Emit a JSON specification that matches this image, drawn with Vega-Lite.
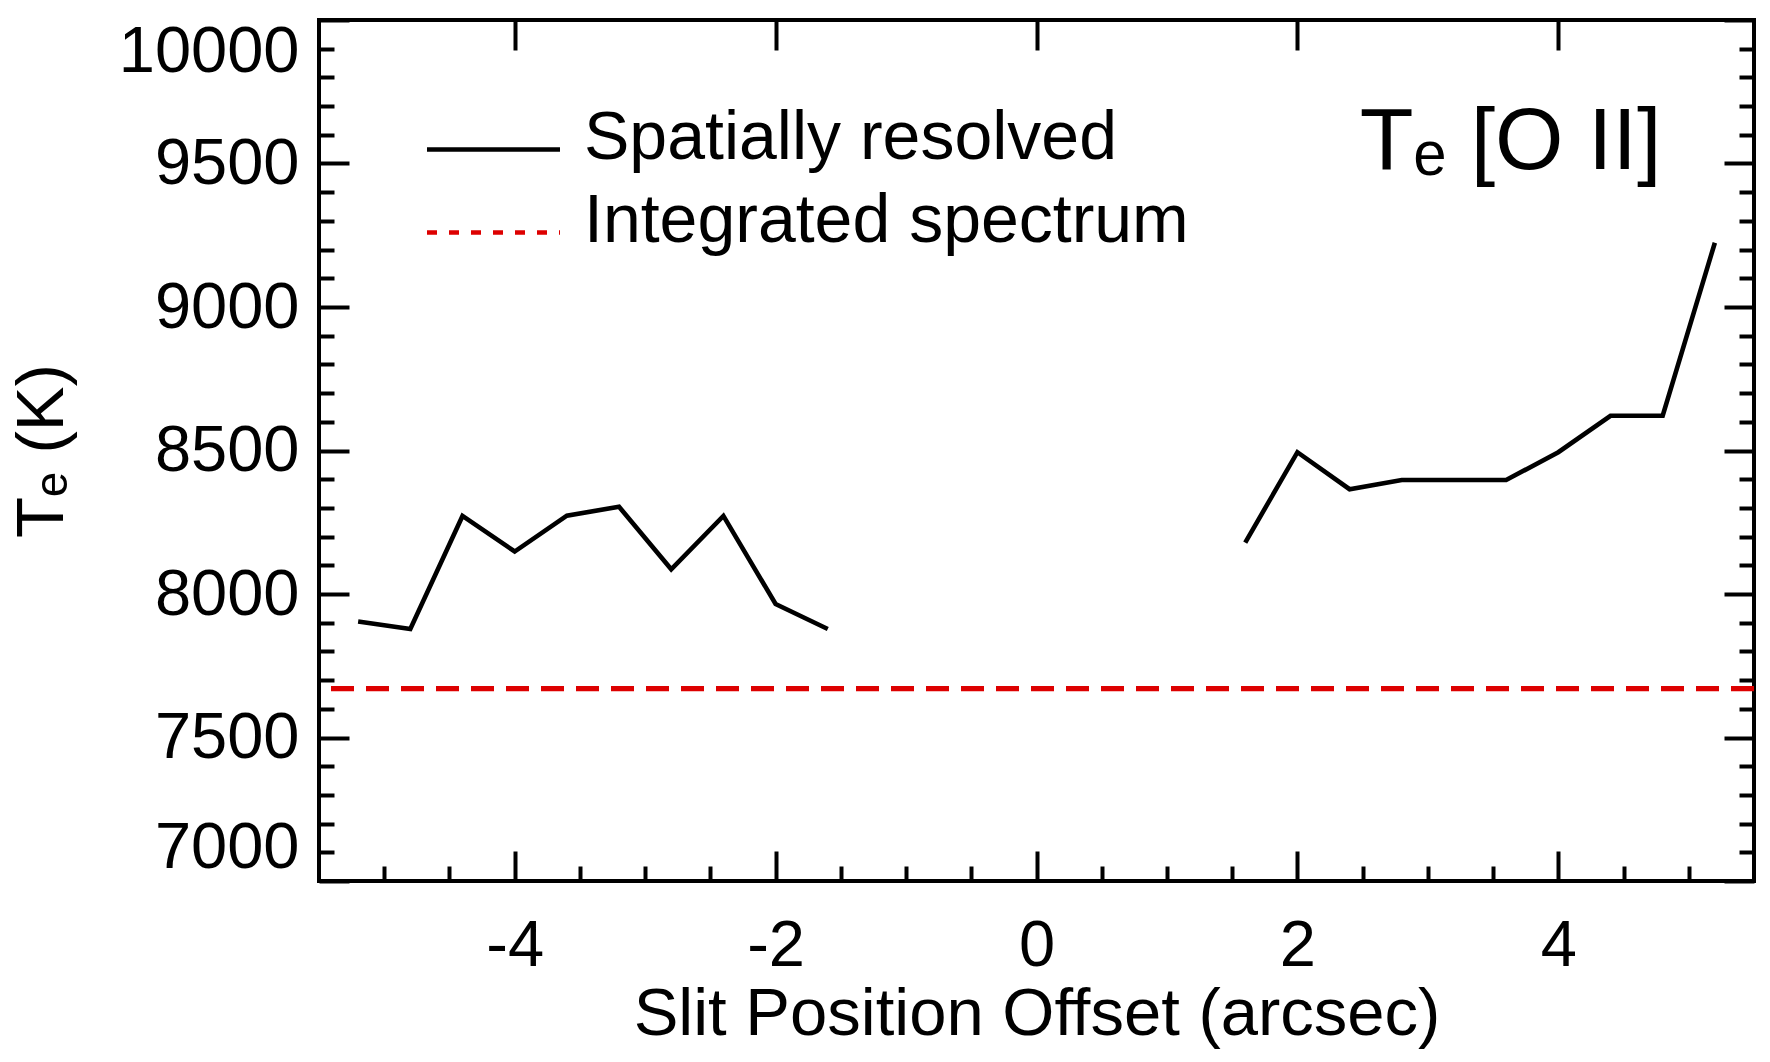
{
  "$schema": "https://vega.github.io/schema/vega-lite/v6.json",
  "width": 1435,
  "height": 861,
  "autosize": "none",
  "padding": {"left": 319, "top": 20, "right": 16, "bottom": 181},
  "background": "white",
  "config": {
    "font": "Liberation Sans",
    "view": {"stroke": "black", "strokeWidth": 4},
    "axis": {
      "grid": false,
      "domain": false,
      "tickColor": "black",
      "tickWidth": 4,
      "labelColor": "black",
      "titleColor": "black",
      "labelFontSize": 65,
      "titleFontSize": 67,
      "titleFontWeight": "normal",
      "labelLimit": 0
    }
  },
  "resolve": {"axis": {"x": "independent", "y": "independent"}},
  "layer": [
    {
      "data": {"values": [
        {"offset": -5.2, "T": 7904, "series": "Spatially resolved"},
        {"offset": -4.8, "T": 7878, "series": "Spatially resolved"},
        {"offset": -4.4, "T": 8272, "series": "Spatially resolved"},
        {"offset": -4.0, "T": 8148, "series": "Spatially resolved"},
        {"offset": -3.6, "T": 8273, "series": "Spatially resolved"},
        {"offset": -3.2, "T": 8304, "series": "Spatially resolved"},
        {"offset": -2.8, "T": 8086, "series": "Spatially resolved"},
        {"offset": -2.4, "T": 8272, "series": "Spatially resolved"},
        {"offset": -2.0, "T": 7965, "series": "Spatially resolved"},
        {"offset": -1.6, "T": 7878, "series": "Spatially resolved"}
      ]},
      "mark": {"type": "line", "strokeWidth": 4.6},
      "encoding": {
        "x": {
          "field": "offset", "type": "quantitative",
          "scale": {"domain": [-5.5, 5.5], "nice": false, "zero": false},
          "axis": {
            "orient": "bottom", "values": [-4, -2, 0, 2, 4], "tickSize": -30,
            "labelPadding": 63, "labelExpr": "'' + datum.value",
            "title": "Slit Position Offset (arcsec)", "titlePadding": 3
          }
        },
        "y": {
          "field": "T", "type": "quantitative",
          "scale": {"domain": [7000, 10000], "nice": false, "zero": false},
          "axis": {
            "orient": "left", "values": [7000, 7500, 8000, 8500, 9000, 9500, 10000],
            "tickSize": -30, "labelPadding": 50, "labelFlush": true,
            "labelExpr": "'' + datum.value",
            "title": "Tₑ (K)", "titlePadding": 43
          }
        },
        "color": {
          "field": "series", "type": "nominal",
          "scale": {"domain": ["Spatially resolved", "Integrated spectrum"], "range": ["black", "#DD0000"]},
          "legend": {
            "orient": "none", "legendX": 139, "legendY": 94, "title": null,
            "symbolType": "M-2,0H2", "symbolSize": 4422, "symbolStrokeWidth": 4.5,
            "labelFontSize": 68, "labelColor": "black", "labelLimit": 0,
            "labelOffset": 55, "rowPadding": 14,
            "encode": {
              "symbols": {"update": {"strokeDash": {"signal": "datum.value === 'Integrated spectrum' ? [10, 12] : [1, 0]"}}},
              "labels": {"update": {"dy": {"value": -11}}}
            }
          }
        }
      }
    },
    {
      "data": {"values": [
        {"offset": 1.6, "T": 8179, "series": "Spatially resolved"},
        {"offset": 2.0, "T": 8494, "series": "Spatially resolved"},
        {"offset": 2.4, "T": 8365, "series": "Spatially resolved"},
        {"offset": 2.8, "T": 8397, "series": "Spatially resolved"},
        {"offset": 3.2, "T": 8397, "series": "Spatially resolved"},
        {"offset": 3.6, "T": 8397, "series": "Spatially resolved"},
        {"offset": 4.0, "T": 8494, "series": "Spatially resolved"},
        {"offset": 4.4, "T": 8621, "series": "Spatially resolved"},
        {"offset": 4.8, "T": 8621, "series": "Spatially resolved"},
        {"offset": 5.2, "T": 9224, "series": "Spatially resolved"}
      ]},
      "mark": {"type": "line", "strokeWidth": 4.6},
      "encoding": {
        "x": {
          "field": "offset", "type": "quantitative",
          "scale": {"domain": [-5.5, 5.5], "nice": false, "zero": false},
          "axis": {
            "orient": "bottom", "labels": false, "tickSize": -15, "title": null,
            "values": [-5, -4.5, -3.5, -3, -2.5, -1.5, -1, -0.5, 0.5, 1, 1.5, 2.5, 3, 3.5, 4.5, 5]
          }
        },
        "y": {
          "field": "T", "type": "quantitative",
          "scale": {"domain": [7000, 10000], "nice": false, "zero": false},
          "axis": {
            "orient": "left", "labels": false, "tickSize": -15, "title": null,
            "values": [7100, 7200, 7300, 7400, 7600, 7700, 7800, 7900, 8100, 8200, 8300, 8400, 8600, 8700, 8800, 8900, 9100, 9200, 9300, 9400, 9600, 9700, 9800, 9900]
          }
        },
        "color": {"field": "series", "type": "nominal"}
      }
    },
    {
      "data": {"values": [
        {"T": 7670, "series": "Integrated spectrum"}
      ]},
      "mark": {"type": "rule", "strokeWidth": 5.3, "strokeDash": [23, 12]},
      "encoding": {
        "y": {
          "field": "T", "type": "quantitative",
          "scale": {"domain": [7000, 10000], "nice": false, "zero": false},
          "axis": {
            "orient": "right", "labels": false, "tickSize": -30, "title": null,
            "values": [7000, 7500, 8000, 8500, 9000, 9500, 10000]
          }
        },
        "color": {"field": "series", "type": "nominal"}
      }
    },
    {
      "data": {"values": [
        {"label": "Tₑ [O II]"}
      ]},
      "mark": {"type": "text", "fontSize": 88, "align": "right", "baseline": "alphabetic", "color": "black"},
      "encoding": {
        "x": {
          "datum": 4.79, "type": "quantitative",
          "scale": {"domain": [-5.5, 5.5], "nice": false, "zero": false},
          "axis": {
            "orient": "top", "labels": false, "tickSize": -30, "title": null,
            "values": [-4, -2, 0, 2, 4]
          }
        },
        "y": {
          "datum": 9480, "type": "quantitative",
          "scale": {"domain": [7000, 10000], "nice": false, "zero": false},
          "axis": {
            "orient": "right", "labels": false, "tickSize": -15, "title": null,
            "values": [7100, 7200, 7300, 7400, 7600, 7700, 7800, 7900, 8100, 8200, 8300, 8400, 8600, 8700, 8800, 8900, 9100, 9200, 9300, 9400, 9600, 9700, 9800, 9900]
          }
        },
        "text": {"field": "label"}
      }
    }
  ]
}
